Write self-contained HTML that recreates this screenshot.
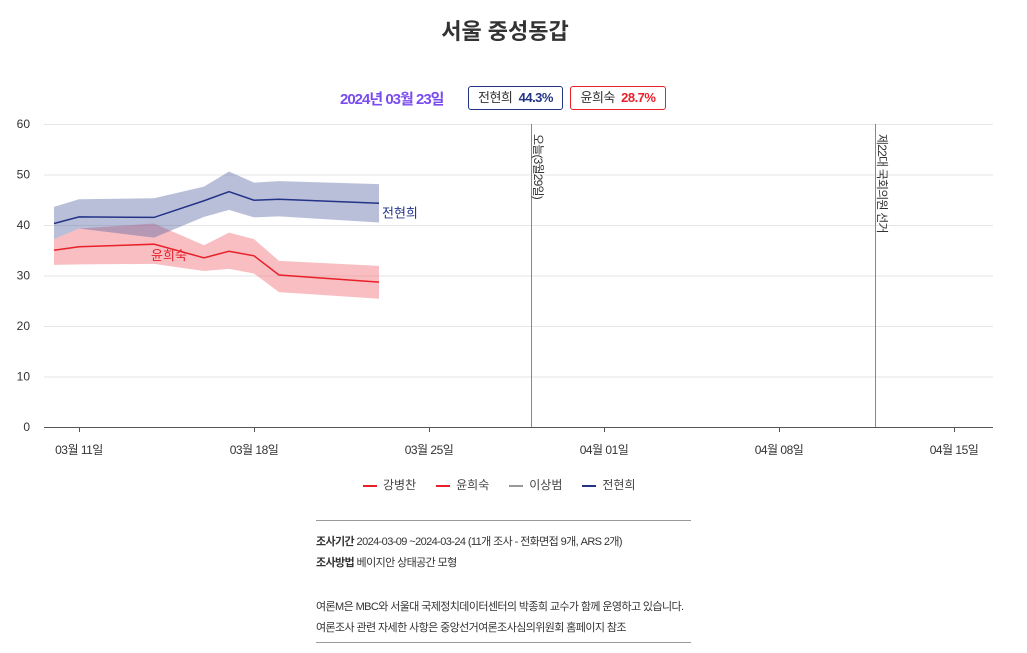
<!DOCTYPE html>
<html><head><meta charset="utf-8"><style>
body{margin:0;background:#fff;width:1027px;height:653px;overflow:hidden;font-family:"Liberation Sans","Noto Sans CJK KR",sans-serif;color:#333}
.t{position:absolute;white-space:nowrap}
.lg{display:inline-block;margin-right:20px}
.lg i{display:inline-block;width:14px;height:2px;vertical-align:middle;margin-right:6px}
</style></head><body>
<div class="t" style="left:0;width:1010px;top:14px;text-align:center;font-size:22px;font-weight:bold;color:#333">서울 중성동갑</div>
<div class="t" style="left:340px;top:88px;font-size:15px;font-weight:bold;color:#7a4cf0;letter-spacing:-1px">2024년 03월 23일</div>
<div class="t" style="left:468px;top:86px;width:93px;height:22px;border:1px solid #233487;border-radius:3px;font-size:13px;line-height:22px;text-align:center;letter-spacing:-0.5px">전현희 <b style="color:#233487">&nbsp;44.3%</b></div>
<div class="t" style="left:570px;top:86px;width:94px;height:22px;border:1px solid #e8202a;border-radius:3px;font-size:13px;line-height:22px;text-align:center;letter-spacing:-0.5px">윤희숙 <b style="color:#e8202a">&nbsp;28.7%</b></div>
<svg id="chart" width="1027" height="470" style="position:absolute;left:0;top:0" font-family="Liberation Sans, Noto Sans CJK KR, sans-serif"></svg>
<div class="t" style="left:363px;top:476px;font-size:12px;color:#444">
<span class="lg"><i style="background:#e8202a"></i>강병찬</span><span class="lg"><i style="background:#e8202a"></i>윤희숙</span><span class="lg"><i style="background:#999"></i>이상범</span><span class="lg"><i style="background:#233487"></i>전현희</span>
</div>
<div style="position:absolute;left:316px;top:520px;width:375px;height:121px;border-top:1px solid #999;border-bottom:1px solid #999;font-size:11px;color:#333;letter-spacing:-0.6px">
<div class="t" style="left:0;top:12px"><b>조사기간</b> 2024-03-09 ~2024-03-24 (11개 조사 - 전화면접 9개, ARS 2개)</div>
<div class="t" style="left:0;top:33px"><b>조사방법</b> 베이지안 상태공간 모형</div>
<div class="t" style="left:0;top:77px">여론M은 MBC와 서울대 국제정치데이터센터의 박종희 교수가 함께 운영하고 있습니다.</div>
<div class="t" style="left:0;top:98px">여론조사 관련 자세한 사항은 중앙선거여론조사심의위원회 홈페이지 참조</div>
</div>
<script>
const days=[-1,0,3,5,6,7,8,12]; // days from Mar 11
const jeonMean=[40.3,41.6,41.5,44.8,46.6,44.9,45.1,44.3];
const jeonHi=[43.6,45.1,45.3,47.6,50.6,48.4,48.7,48.1];
const jeonLo=[37.2,39.3,37.5,41.6,43.0,41.5,41.7,40.5];
const yoonMean=[35.0,35.7,36.2,33.5,34.8,33.9,30.1,28.7];
const yoonHi=[37.2,39.3,40.3,36.0,38.5,37.2,32.9,31.9];
const yoonLo=[32.1,32.2,32.3,30.9,31.3,30.4,26.7,25.4];
const yTicks=[0,10,20,30,40,50,60];
const xTickDays=[0,7,14,21,28,35];
const xTickLabels=["03월 11일","03월 18일","03월 25일","04월 01일","04월 08일","04월 15일"];
const eventDays=[18.08,31.84];
const eventLabels=["오늘(3월29일)","제22대 국회의원 선거"];
const svg=document.getElementById('chart');const NS='http://www.w3.org/2000/svg';
const X=d=>79+d*25, Y=v=>427-v*(303/60);
function el(t,a){const e=document.createElementNS(NS,t);for(const k in a)e.setAttribute(k,a[k]);svg.appendChild(e);return e;}
yTicks.forEach(v=>{
 const l=el('line',{x1:44,x2:993,y1:Y(v)+0.5,y2:Y(v)+0.5,stroke:v?'#e6e6e6':'#555','stroke-width':1});
 
 
 const t=el('text',{x:30,y:Y(v)+4,'text-anchor':'end','font-size':12,fill:'#333'});t.textContent=v;
 
 
});
xTickDays.forEach((d,i)=>{
 const tk=el('line',{x1:X(d)+0.5,x2:X(d)+0.5,y1:427,y2:432,stroke:'#555'});
 
 
 const t=el('text',{x:X(d),y:454,'text-anchor':'middle','font-size':12,fill:'#333','letter-spacing':'-0.5'});t.textContent=xTickLabels[i];
 
 
});
eventDays.forEach((d,i)=>{
 const l=el('line',{x1:Math.round(X(d))+0.5,x2:Math.round(X(d))+0.5,y1:124,y2:427,stroke:'#888','stroke-width':1});
 
 
 const t=el('text',{x:0,y:0,transform:`translate(${X(d)+3},134) rotate(90)`,'font-size':12,fill:'#333','letter-spacing':'-0.8'});t.textContent=eventLabels[i];
 
 
});
function band(hi,lo,fill,name){
 let p=days.map((d,i)=>`${X(d)},${Y(hi[i])}`);
 for(let i=days.length-1;i>=0;i--)p.push(`${X(days[i])},${Y(lo[i])}`);
 const e=el('polygon',{points:p.join(' '),fill:fill});
 
 
}
function line(m,stroke,name){
 const e=el('polyline',{points:days.map((d,i)=>`${X(d)},${Y(m[i])}`).join(' '),fill:'none',stroke:stroke,'stroke-width':1.5});
 
 
}
band(yoonHi,yoonLo,'rgba(240,110,120,0.45)','yoon-band');
band(jeonHi,jeonLo,'rgba(80,95,160,0.4)','jeon-band');
line(yoonMean,'#e8202a','yoon-line');
line(jeonMean,'#233487','jeon-line');
const n=days.length-1;
const jl=el('text',{x:X(days[n])+3,y:Y(jeonMean[n])+14,'font-size':13,fill:'#233487'});jl.textContent='전현희';


const yl=el('text',{x:X(days[2])-3,y:Y(yoonMean[2])+16,'font-size':13,fill:'#e8202a'});yl.textContent='윤희숙';


</script>
</body></html>
